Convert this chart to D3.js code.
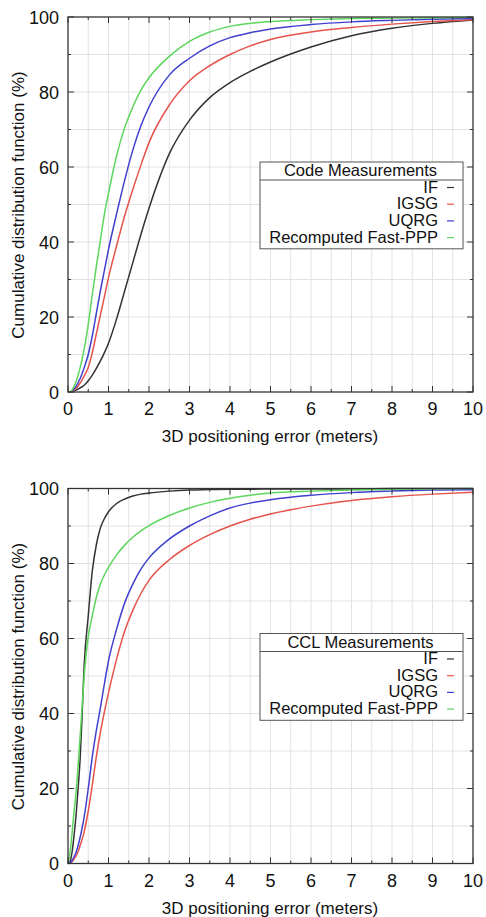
<!DOCTYPE html>
<meta charset="utf-8">
<style>
body { margin: 0; background: #fff; }
svg text { font-family: "Liberation Sans", Arial, sans-serif; fill: #111; }
.grid line { stroke: #e2e2e2; stroke-width: 1; }
.frame { fill: none; stroke: #333; stroke-width: 1.3; }
.ticks line { stroke: #333; stroke-width: 1; }
.curve { fill: none; stroke-width: 1.5; }
</style>
<svg width="486" height="917"></svg>
<script src="https://d3js.org/d3.v7.min.js"></script>
<script>

// error values (meters) shared by every curve
var errors = [0, 0.05, 0.1, 0.15, 0.2, 0.25, 0.3, 0.35, 0.4, 0.5, 0.6, 0.7, 0.8, 0.9, 1.0,
              1.2, 1.4, 1.6, 1.8, 2.0, 2.5, 3.0, 3.5, 4.0, 4.5, 5.0, 6.0, 7.0, 8.0, 9.0, 10.0];

// Code measurements, CDF (%)
var codeIF   = [0, 0, 0.1, 0.3, 0.5, 0.8, 1.1, 1.4, 1.8, 3, 4.5, 6.3, 8.3, 10.5, 13,
                19.5, 27, 34.5, 42, 49, 63.5, 72.5, 78.5, 82.5, 85.5, 88, 92, 95, 97, 98.3, 99.2];
var codeIGSG = [0, 0, 0.2, 0.5, 1, 1.6, 2.4, 3.3, 4.3, 6.5, 10.5, 15.5, 20.5, 25.5, 30.5,
                39, 47, 54, 60.5, 66.5, 76.5, 83, 87, 90, 92.3, 94, 96, 97.2, 98.1, 98.8, 99.3];
var codeUQRG = [0, 0, 0.3, 0.8, 1.5, 2.5, 3.6, 5, 6.5, 10, 15, 21, 27, 32.5, 38,
                47.5, 56.5, 64.5, 71, 76, 84.5, 89, 92.3, 94.5, 95.8, 96.8, 98, 98.7, 99.1, 99.4, 99.6];
var codeFast = [0, 0, 0.5, 1.5, 2.8, 4.5, 6.5, 8.8, 11.5, 18, 26, 33.5, 40.5, 47.5, 53,
                63, 70.5, 76, 80.5, 83.8, 89.5, 93.5, 96, 97.5, 98.3, 98.8, 99.3, 99.6, 99.7, 99.8, 99.9];

// CCL measurements, CDF (%)
var cclIF   = [0, 0.5, 3, 7.5, 13, 20, 28, 40, 53, 66, 78, 85, 89.5, 92, 93.8,
               96, 97.2, 98, 98.5, 98.8, 99.3, 99.6, 99.7, 99.8, 99.8, 99.9, 99.9, 99.9, 100, 100, 100];
var cclIGSG = [0, 0.1, 0.5, 1.2, 2, 3.2, 4.8, 6.5, 8.5, 14, 21, 28.5, 35, 40.5, 45.5,
               54.5, 62, 67.5, 72, 75.5, 81, 84.8, 87.7, 90, 91.8, 93.2, 95.3, 96.8, 97.8, 98.5, 99];
var cclUQRG = [0, 0.2, 0.8, 1.8, 3, 4.8, 7, 9.5, 12.5, 20, 28.5, 35.5, 41.5, 48, 54,
               62.5, 69.5, 74.5, 78.5, 81.5, 86.5, 90, 92.7, 94.8, 96.1, 97, 98.2, 98.9, 99.3, 99.6, 99.7];
var cclFast = [0, 3, 8, 14, 19, 26, 34, 42, 50, 60.5, 66, 71, 74.5, 77, 79,
               82.3, 84.9, 87, 88.7, 90.1, 92.8, 94.8, 96.3, 97.4, 98.2, 98.8, 99.3, 99.6, 99.8, 99.9, 100];

var seriesNames = ["IF", "IGSG", "UQRG", "Recomputed Fast-PPP"];
var colors = ["#333333", "#e5534b", "#4040d0", "#5cd65c"];
var xTicks = d3.range(0, 11, 1);
var yTicks = d3.range(0, 101, 20);

var svg = d3.select("svg");
var left = 68, right = 473, plotH = 375;

var x = d3.scaleLinear().domain([0, 10]).range([left, right]);

function panel(top, data, title) {
  var g = svg.append("g");
  var y = d3.scaleLinear().domain([0, 100]).range([top + plotH, top]);

  // grid
  var grid = g.append("g").attr("class", "grid");
  grid.selectAll(".gx").data(d3.range(0.5, 10, 0.5)).enter().append("line")
      .attr("x1", function(d) { return x(d); }).attr("x2", function(d) { return x(d); })
      .attr("y1", y(0)).attr("y2", y(100));
  grid.selectAll(".gy").data(d3.range(10, 100, 10)).enter().append("line")
      .attr("x1", x(0)).attr("x2", x(10))
      .attr("y1", function(d) { return y(d); }).attr("y2", function(d) { return y(d); });

  // curves
  var line = d3.line()
      .x(function(d, i) { return x(errors[i]); })
      .y(function(d) { return y(d); })
      .curve(d3.curveMonotoneX);
  g.selectAll(".curve").data(data).enter().append("path")
      .attr("class", "curve")
      .attr("stroke", function(d, i) { return colors[i]; })
      .attr("d", line);

  // ticks, mirrored on all sides
  var ticks = g.append("g").attr("class", "ticks");
  d3.range(0, 10.01, 0.5).forEach(function(v) {
    var len = (v % 1 === 0) ? 6 : 3;
    ticks.append("line").attr("x1", x(v)).attr("x2", x(v)).attr("y1", y(0)).attr("y2", y(0) - len);
    ticks.append("line").attr("x1", x(v)).attr("x2", x(v)).attr("y1", y(100)).attr("y2", y(100) + len);
  });
  d3.range(0, 101, 10).forEach(function(v) {
    var len = (v % 20 === 0) ? 6 : 3;
    ticks.append("line").attr("x1", x(0)).attr("x2", x(0) + len).attr("y1", y(v)).attr("y2", y(v));
    ticks.append("line").attr("x1", x(10)).attr("x2", x(10) - len).attr("y1", y(v)).attr("y2", y(v));
  });

  g.append("rect").attr("class", "frame")
      .attr("x", x(0)).attr("y", y(100))
      .attr("width", x(10) - x(0)).attr("height", y(0) - y(100));

  // tick labels
  g.selectAll(".xl").data(xTicks).enter().append("text")
      .attr("x", function(d) { return x(d); }).attr("y", y(0) + 23)
      .attr("text-anchor", "middle").attr("font-size", 18)
      .text(function(d) { return d; });
  g.selectAll(".yl").data(yTicks).enter().append("text")
      .attr("x", x(0) - 9).attr("y", function(d) { return y(d) + 6.5; })
      .attr("text-anchor", "end").attr("font-size", 18)
      .text(function(d) { return d; });

  // axis titles
  g.append("text")
      .attr("x", 270).attr("y", y(0) + 50)
      .attr("text-anchor", "middle").attr("font-size", 17)
      .text("3D positioning error (meters)");
  g.append("text")
      .attr("transform", "translate(24," + (top + 188) + ") rotate(-90)")
      .attr("text-anchor", "middle").attr("font-size", 17)
      .text("Cumulative distribution function (%)");

  // legend
  var lx = 260, lw = 203, ly = top + 145, rowH = 16.7;
  var leg = g.append("g");
  leg.append("rect")
      .attr("x", lx).attr("y", ly).attr("width", lw).attr("height", 18 + rowH * 4 + 2)
      .attr("fill", "#fff").attr("stroke", "#555").attr("stroke-width", 1);
  leg.append("line")
      .attr("x1", lx).attr("x2", lx + lw).attr("y1", ly + 18).attr("y2", ly + 18)
      .attr("stroke", "#555");
  leg.append("text")
      .attr("x", lx + lw / 2 - 1).attr("y", ly + 14)
      .attr("text-anchor", "middle").attr("font-size", 16.5)
      .text(title);
  seriesNames.forEach(function(name, i) {
    var by = ly + 30.5 + i * rowH;
    leg.append("text")
        .attr("x", lx + 178).attr("y", by)
        .attr("text-anchor", "end").attr("font-size", 16.5)
        .text(name);
    leg.append("line")
        .attr("x1", lx + 187).attr("x2", lx + 194)
        .attr("y1", by - 5).attr("y2", by - 5)
        .attr("stroke", colors[i]).attr("stroke-width", 1.2);
  });
}

panel(17, [codeIF, codeIGSG, codeUQRG, codeFast], "Code Measurements");
panel(488.5, [cclIF, cclIGSG, cclUQRG, cclFast], "CCL Measurements");

</script>
